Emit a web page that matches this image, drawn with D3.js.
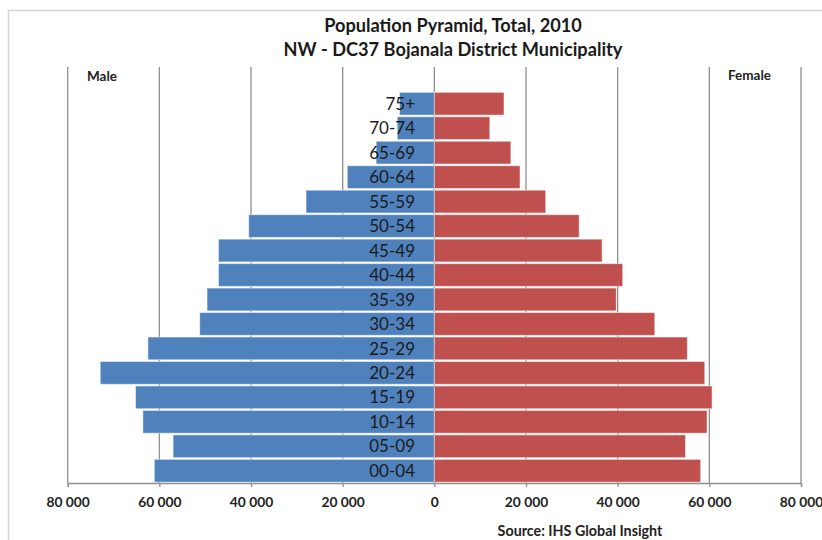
<!DOCTYPE html>
<html>
<head>
<meta charset="utf-8">
<script src="https://cdn.jsdelivr.net/npm/d3@7/dist/d3.min.js"></script>
<style>
  html, body { margin: 0; padding: 0; background: #fff; }
  svg { display: block; }
  text { font-family: Lato, "Open Sans", sans-serif; }
</style>
</head>
<body>
<svg id="chart" width="822" height="540"></svg>
<script>
// Age groups, oldest at the top
const ageGroups = ["75+", "70-74", "65-69", "60-64", "55-59", "50-54", "45-49", "40-44",
                   "35-39", "30-34", "25-29", "20-24", "15-19", "10-14", "05-09", "00-04"];
// Population by age group, 2010
const male   = [7600, 8100, 12700, 19000, 28000, 40500, 47100, 47100,
                49600, 51200, 62500, 72900, 65200, 63600, 57000, 61100];
const female = [15200, 12100, 16700, 18700, 24300, 31600, 36600, 41100,
                39700, 48100, 55200, 59000, 60600, 59500, 54800, 58100];
const tickValues = [-80000, -60000, -40000, -20000, 0, 20000, 40000, 60000, 80000];
const titleLines = ["Population Pyramid, Total, 2010", "NW - DC37 Bojanala District Municipality"];

const svg = d3.select("#chart");
const W = 822, H = 540;
const plotTop = 67, plotBottom = 483;

svg.append("rect").attr("width", W).attr("height", H).attr("fill", "#fff");
// chart frame
svg.append("path")
  .attr("d", `M8.5,${H + 2} V10.5 H${W + 2}`)
  .attr("fill", "none").attr("stroke", "#d6d6d6").attr("stroke-width", 1.5);

const x = d3.scaleLinear().domain([-80000, 80000]).range([67.7, 801]);
// the band for the top slot is left empty, leaving room for the side labels
const slot = (plotBottom - plotTop) / (ageGroups.length + 1);
const y = d3.scaleBand().domain(ageGroups)
  .range([plotTop + slot, plotBottom])
  .paddingInner(0.07).paddingOuter(0.035);

const locale = d3.formatLocale({ decimal: ".", thousands: " ", grouping: [3], currency: ["", ""] });
const fmt = locale.format(",");

// vertical gridlines
svg.append("g").selectAll("line").data(tickValues).join("line")
  .attr("x1", d => x(d)).attr("x2", d => x(d))
  .attr("y1", plotTop).attr("y2", plotBottom)
  .attr("stroke", "#909090").attr("stroke-width", 1.3);

// bars
const rows = ageGroups.map((g, i) => ({ g, m: male[i], f: female[i] }));
svg.append("g").selectAll("rect").data(rows).join("rect")
  .attr("x", d => x(-d.m)).attr("y", d => y(d.g))
  .attr("width", d => x(0) - x(-d.m)).attr("height", y.bandwidth())
  .attr("fill", "#4F81BD").attr("stroke", "rgba(255,255,255,0.5)").attr("stroke-width", 1);
svg.append("g").selectAll("rect").data(rows).join("rect")
  .attr("x", x(0)).attr("y", d => y(d.g))
  .attr("width", d => x(d.f) - x(0)).attr("height", y.bandwidth())
  .attr("fill", "#C0504D").attr("stroke", "rgba(255,255,255,0.5)").attr("stroke-width", 1);

// horizontal axis
const axis = d3.axisBottom(x).tickValues(tickValues).tickSize(4).tickFormat(d => fmt(Math.abs(d)));
const ax = svg.append("g").attr("transform", `translate(0,${plotBottom})`).call(axis);
ax.select(".domain").attr("stroke", "#909090").attr("stroke-width", 1.3);
ax.selectAll(".tick line").attr("stroke", "#909090").attr("stroke-width", 1.3);
ax.selectAll(".tick text").attr("y", 14).attr("font-size", 13.8).attr("font-weight", "bold")
  .attr("fill", "#222").attr("font-family", "Lato, sans-serif");

// age group labels
svg.append("g").selectAll("text").data(ageGroups).join("text")
  .attr("x", 415).attr("y", d => y(d) + y.bandwidth() / 2)
  .attr("dy", "0.36em").attr("text-anchor", "end")
  .attr("font-size", 17).attr("fill", "#1a1a1a")
  .text(d => d);

// titles
svg.selectAll(".title").data(titleLines).join("text")
  .attr("class", "title")
  .attr("x", 453).attr("y", (d, i) => 25 + i * 24)
  .attr("dy", "0.36em").attr("text-anchor", "middle")
  .attr("font-size", 18.2).attr("font-weight", "bold").attr("fill", "#1a1a1a")
  .text(d => d);

// side labels
svg.append("text").attr("x", 87).attr("y", 76).attr("dy", "0.36em")
  .attr("font-size", 13.5).attr("font-weight", "bold").attr("fill", "#222").text("Male");
svg.append("text").attr("x", 728).attr("y", 75).attr("dy", "0.36em")
  .attr("font-size", 13.5).attr("font-weight", "bold").attr("fill", "#222").text("Female");

// source note
svg.append("text").attr("x", 580).attr("y", 531).attr("dy", "0.36em").attr("text-anchor", "middle")
  .attr("font-size", 14.3).attr("font-weight", "bold").attr("fill", "#222").text("Source: IHS Global Insight");
</script>
</body>
</html>
